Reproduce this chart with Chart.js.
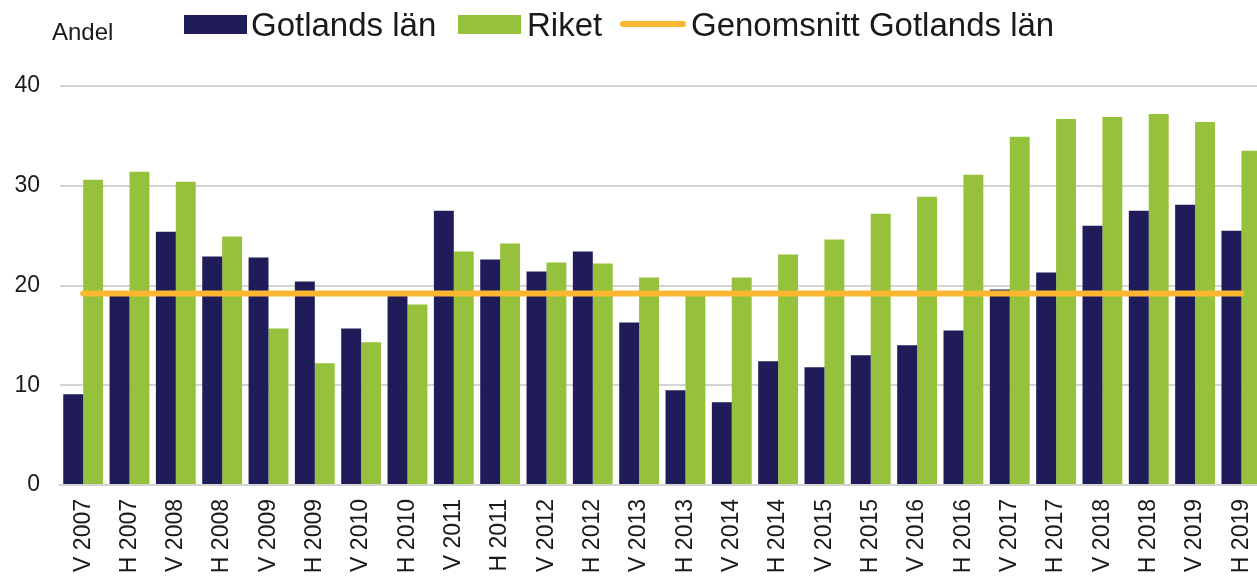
<!DOCTYPE html>
<html>
<head>
<meta charset="utf-8">
<script src="https://cdn.jsdelivr.net/npm/chart.js@4"></script>
<style>
  body { margin: 0; overflow: hidden; background: #fff; font-family: "Liberation Sans", Arial, sans-serif; color: #1a1a1a; }
  #wrap { position: relative; width: 1283px; height: 582px; }
  .lbl { position: absolute; white-space: nowrap; }
  .legend-text { font-size: 33px; line-height: 33px; top: 8px; }
  .box { position: absolute; top: 15px; width: 63px; height: 19px; }
  .line-key { position: absolute; top: 21px; width: 66px; height: 6px; border-radius: 3px; background: #fbb732; }
</style>
</head>
<body>
<div id="wrap">
  <canvas id="chart"></canvas>
  <div class="lbl" style="left:52px; top:20px; font-size:24px; line-height:24px;">Andel</div>
  <div class="box" style="left:184px; background:#201c5a;"></div>
  <div class="lbl legend-text" style="left:251px;">Gotlands län</div>
  <div class="box" style="left:458px; background:#95c13d;"></div>
  <div class="lbl legend-text" style="left:527px;">Riket</div>
  <div class="line-key" style="left:620px;"></div>
  <div class="lbl legend-text" style="left:691px;">Genomsnitt Gotlands län</div>
</div>
<script>
// categories (V = vår, H = höst)
const periods = [
  "V 2007", "H 2007", "V 2008", "H 2008", "V 2009", "H 2009", "V 2010",
  "H 2010", "V 2011", "H 2011", "V 2012", "H 2012", "V 2013", "H 2013",
  "V 2014", "H 2014", "V 2015", "H 2015", "V 2016", "H 2016", "V 2017",
  "H 2017", "V 2018", "H 2018", "V 2019", "H 2019",
];

const gotland = [
  9.1, 19.0, 25.4, 22.9, 22.8, 20.4, 15.7, 19.3, 27.5, 22.6, 21.4, 23.4, 16.3,
  9.5, 8.3, 12.4, 11.8, 13.0, 14.0, 15.5, 19.6, 21.3, 26.0, 27.5, 28.1, 25.5,
];

const riket = [
  30.6, 31.4, 30.4, 24.9, 15.7, 12.2, 14.3, 18.1, 23.4, 24.2, 22.3, 22.2, 20.8,
  19.2, 20.8, 23.1, 24.6, 27.2, 28.9, 31.1, 34.9, 36.7, 36.9, 37.2, 36.4, 33.5,
];

const genomsnitt = [
  19.2, 19.2, 19.2, 19.2, 19.2, 19.2, 19.2, 19.2, 19.2, 19.2, 19.2, 19.2, 19.2,
  19.2, 19.2, 19.2, 19.2, 19.2, 19.2, 19.2, 19.2, 19.2, 19.2, 19.2, 19.2, 19.2,
];

const yTicks = [0, 10, 20, 30, 40];

const fontFamily = '"Liberation Sans", Arial, sans-serif';
const chartEl = document.getElementById("chart");

new Chart(chartEl, {
  data: {
    labels: periods,
    datasets: [
      {
        type: "line",
        label: "Genomsnitt Gotlands län",
        data: genomsnitt,
        borderColor: "#fbb732",
        borderWidth: 6,
        borderCapStyle: "round",
        pointRadius: 0,
        tension: 0,
        order: 0,
      },
      {
        type: "bar",
        label: "Gotlands län",
        data: gotland,
        backgroundColor: "#201c5a",
        categoryPercentage: 0.86,
        barPercentage: 1.0,
        order: 1,
      },
      {
        type: "bar",
        label: "Riket",
        data: riket,
        backgroundColor: "#95c13d",
        categoryPercentage: 0.86,
        barPercentage: 1.0,
        order: 1,
      },
    ],
  },
  options: {
    responsive: true,
    maintainAspectRatio: false,
    animation: false,
    layout: {
      padding: { top: 86, right: 0, left: 0, bottom: 0 },
    },
    plugins: {
      legend: { display: false },
      tooltip: { enabled: false },
    },
    scales: {
      x: {
        grid: { display: false, drawTicks: false },
        border: { color: "#d4d4d4", width: 2 },
        ticks: {
          autoSkip: false,
          minRotation: 90,
          maxRotation: 90,
          padding: 14,
          color: "#1a1a1a",
          font: { family: fontFamily, size: 23 },
        },
        afterFit: (scale) => {
          scale.height = 97;
        },
      },
      y: {
        min: 0,
        max: 40,
        afterBuildTicks: (scale) => {
          scale.ticks = yTicks.map((v) => ({ value: v }));
        },
        grid: { color: "#d4d4d4", lineWidth: 2, drawTicks: false },
        border: { display: false },
        ticks: {
          padding: 20,
          color: "#1a1a1a",
          font: { family: fontFamily, size: 23 },
        },
        afterFit: (scale) => {
          scale.width = 60;
        },
      },
    },
  },
});
</script>
</body>
</html>
